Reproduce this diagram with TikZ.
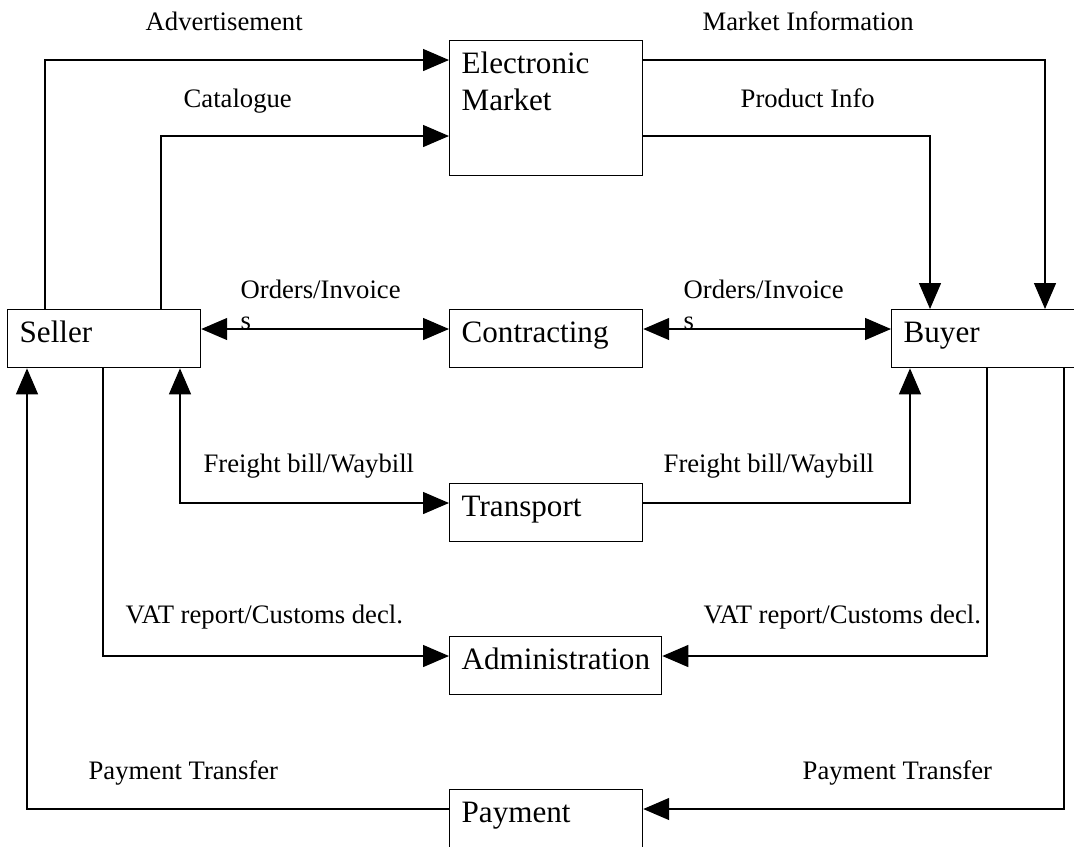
\documentclass[tikz,border=0pt]{standalone}
\usepackage{fontspec}
\setmainfont{Liberation Serif}
\usepackage{tikz}
\usetikzlibrary{calc,arrows.meta}

\begin{document}
\begin{tikzpicture}[x=0.45pt, y=-0.45pt,
    >={Triangle[length=11.7pt, width=9.9pt]},
    line width=0.6pt,
    box/.style={draw, line width=0.6pt, anchor=north west, inner xsep=5.4pt, inner ysep=0pt,
        text width=76pt, align=left, text height=14.85pt, text depth=11.25pt,
        font=\fontsize{14}{16.65}\selectfont},
    lbl/.style={anchor=base west, inner sep=0pt, font=\fontsize{12}{14}\selectfont}]
    \useasboundingbox (0,0) rectangle (1074,846);
    \node[box] (seller) at (7,309) {Seller};
    \node[box, text depth=45.9pt] (market) at (449,40) {Electronic\\Market};
    \node[box] (contracting) at (449,309) {Contracting};
    \node[box] (buyer) at (891,309) {Buyer};
    \node[box] (transport) at (449,483) {Transport};
    \node[box, text width=84.6pt] (admin) at (449,636) {Administration};
    \node[box] (payment) at (449,789) {Payment};
    \draw[->] ($(seller.north west)+(38,0)$) |- ($(market.north west)+(0,20)$);
    \draw[->] ($(seller.north west)+(154,0)$) |- ($(market.north west)+(0,96)$);
    \draw[->] ($(market.north east)+(0,20)$) -| ($(buyer.north west)+(154,0)$);
    \draw[->] ($(market.north east)+(0,96)$) -| ($(buyer.north west)+(39,0)$);
    \draw[<->] ($(seller.north east)+(0,20)$) -- ($(contracting.north west)+(0,20)$);
    \draw[<->] ($(contracting.north east)+(0,20)$) -- ($(buyer.north west)+(0,20)$);
    \draw[<->] ($(seller.south west)+(173,0)$) |- ($(transport.north west)+(0,20)$);
    \draw[->] ($(transport.north east)+(0,20)$) -| ($(buyer.south west)+(19,0)$);
    \draw[->] ($(seller.south west)+(96,0)$) |- ($(admin.north west)+(0,20)$);
    \draw[->] ($(buyer.south west)+(96,0)$) |- ($(admin.north east)+(0,20)$);
    \draw[->] ($(payment.north west)+(0,20)$) -| ($(seller.south west)+(20,0)$);
    \draw[->] ($(buyer.south west)+(173,0)$) |- ($(payment.north east)+(0,20)$);
    \node[lbl] (advert) at (145,30) {Advertisement};
    \node[lbl] (catalogue) at (183,107) {Catalogue};
    \node[lbl] (mktinfo) at (702,30) {Market Information};
    \node[lbl] (prodinfo) at (740,107) {Product Info};
    \begin{scope}
        \clip (200,0) rectangle (891,327);
        \node[lbl, text width=75pt, align=left] (ordersL) at (240,298) {Orders/Invoice\\s};
        \node[lbl, text width=75pt, align=left] (ordersR) at (683,298) {Orders/Invoice\\s};
    \end{scope}
    \node[lbl] (freightL) at (203,472) {Freight bill/Waybill};
    \node[lbl] (freightR) at (663,472) {Freight bill/Waybill};
    \node[lbl] (vatL) at (125,623) {VAT report/Customs decl.};
    \node[lbl] (vatR) at (703,623) {VAT report/Customs decl.};
    \node[lbl] (payL) at (88,779) {Payment Transfer};
    \node[lbl] (payR) at (802,779) {Payment Transfer};
\end{tikzpicture}
\end{document}
